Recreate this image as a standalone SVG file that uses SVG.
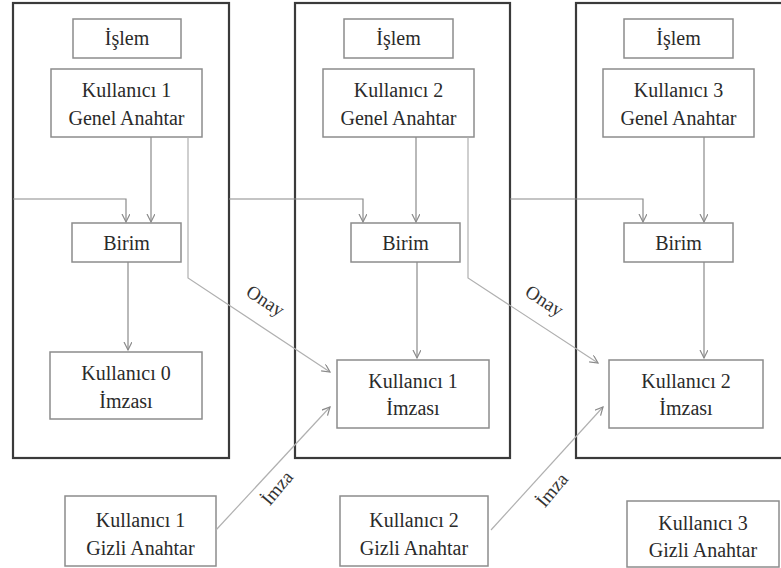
<svg xmlns="http://www.w3.org/2000/svg" width="781" height="568" viewBox="0 0 781 568">
<style>
.panel{fill:none;stroke:#3a3a3a;stroke-width:2.2}
.box{fill:#fff;stroke:#8c8c8c;stroke-width:1.5}
text{font-family:'Liberation Serif','Times New Roman','DejaVu Serif',serif}
.t{font-size:20px;fill:#2a2a2a;text-anchor:middle}
.lbl{font-size:19px;fill:#333;text-anchor:middle}
.c{fill:none;stroke:#8a8a8a;stroke-width:1.2}
.d{fill:none;stroke:#b0b0b0;stroke-width:1.2}
</style>
<defs>
<marker id="ah" markerWidth="10" markerHeight="10" refX="8" refY="4" orient="auto" markerUnits="userSpaceOnUse">
<path d="M0,0 L8,4 L0,8" fill="none" stroke="#8a8a8a" stroke-width="1.2"/>
</marker>
</defs>
<rect width="781" height="568" fill="#fff"/>

<g id="panel1"><rect class="panel" x="13" y="3" width="216" height="455"/></g>
<g id="panel2"><rect class="panel" x="295" y="3" width="215" height="455"/></g>
<g id="panel3"><rect class="panel" x="576" y="3" width="220" height="455"/></g>

<g font-family="Liberation Serif, serif">
<g id="islem1"><rect class="box" x="73" y="19" width="108" height="39"/><text class="t" x="127" y="45">İşlem</text></g>
<g id="genel1"><rect class="box" x="51" y="69" width="151" height="68"/><text class="t" x="126.5" y="97">Kullanıcı 1</text><text class="t" x="126.5" y="125">Genel Anahtar</text></g>
<g id="birim1"><rect class="box" x="72" y="223" width="109" height="39"/><text class="t" x="126.5" y="250">Birim</text></g>
<g id="imza0"><rect class="box" x="50" y="352" width="152" height="67"/><text class="t" x="126" y="380">Kullanıcı 0</text><text class="t" x="126" y="408">İmzası</text></g>

<g id="islem2"><rect class="box" x="344" y="19" width="109" height="39"/><text class="t" x="398.5" y="45">İşlem</text></g>
<g id="genel2"><rect class="box" x="323" y="69" width="151" height="68"/><text class="t" x="398.5" y="97">Kullanıcı 2</text><text class="t" x="398.5" y="125">Genel Anahtar</text></g>
<g id="birim2"><rect class="box" x="351" y="223" width="109" height="39"/><text class="t" x="405.5" y="250">Birim</text></g>
<g id="imza1"><rect class="box" x="337" y="360" width="152" height="68"/><text class="t" x="413" y="388">Kullanıcı 1</text><text class="t" x="413" y="415">İmzası</text></g>

<g id="islem3"><rect class="box" x="624" y="19" width="109" height="39"/><text class="t" x="678.5" y="45">İşlem</text></g>
<g id="genel3"><rect class="box" x="603" y="69" width="151" height="68"/><text class="t" x="678.5" y="97">Kullanıcı 3</text><text class="t" x="678.5" y="125">Genel Anahtar</text></g>
<g id="birim3"><rect class="box" x="624" y="223" width="109" height="39"/><text class="t" x="678.5" y="250">Birim</text></g>
<g id="imza2"><rect class="box" x="609" y="360" width="154" height="68"/><text class="t" x="686" y="388">Kullanıcı 2</text><text class="t" x="686" y="415">İmzası</text></g>

<g id="gizli1"><rect class="box" x="65" y="496" width="151" height="70"/><text class="t" x="140.5" y="527">Kullanıcı 1</text><text class="t" x="140.5" y="555">Gizli Anahtar</text></g>
<g id="gizli2"><rect class="box" x="340" y="496" width="148" height="70"/><text class="t" x="414" y="527">Kullanıcı 2</text><text class="t" x="414" y="555">Gizli Anahtar</text></g>
<g id="gizli3"><rect class="box" x="627" y="501" width="152" height="66"/><text class="t" x="703" y="530">Kullanıcı 3</text><text class="t" x="703" y="557">Gizli Anahtar</text></g>
</g>

<g id="connectors" font-family="Liberation Serif, serif">
<path class="c" d="M151,137 V222" marker-end="url(#ah)"/>
<path class="c" d="M13,199 H126 V222" marker-end="url(#ah)"/>
<path class="c" d="M128,262 V350" marker-end="url(#ah)"/>
<path class="d" d="M188,137 V278 L330,372" marker-end="url(#ah)"/>

<path class="c" d="M416,137 V222" marker-end="url(#ah)"/>
<path class="c" d="M229,199 H363 V222" marker-end="url(#ah)"/>
<path class="c" d="M417,262 V358" marker-end="url(#ah)"/>
<path class="d" d="M468,137 V278 L598,363" marker-end="url(#ah)"/>

<path class="c" d="M704,137 V222" marker-end="url(#ah)"/>
<path class="c" d="M510,199 H643 V222" marker-end="url(#ah)"/>
<path class="c" d="M704,262 V358" marker-end="url(#ah)"/>

<path class="d" d="M216,530 L330,407" marker-end="url(#ah)"/>
<path class="d" d="M491,530 L603,407" marker-end="url(#ah)"/>

<text class="lbl" transform="translate(262,306) rotate(33)">Onay</text>
<text class="lbl" transform="translate(541,306) rotate(33)">Onay</text>
<text class="lbl" transform="translate(282,492) rotate(-50)">İmza</text>
<text class="lbl" transform="translate(557,494) rotate(-50)">İmza</text>
</g>
</svg>
